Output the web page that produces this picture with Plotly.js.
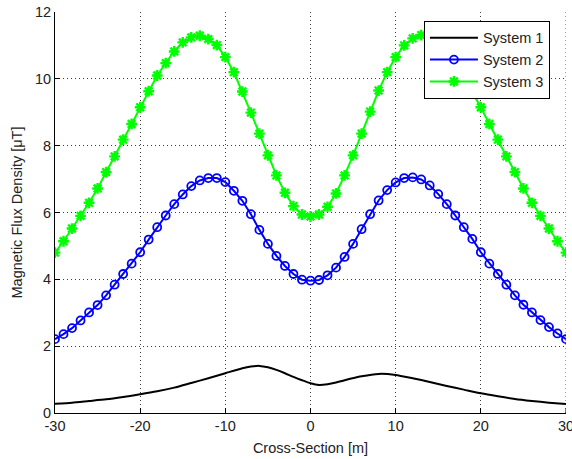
<!DOCTYPE html>
<html>
<head>
<meta charset="utf-8">
<script src="https://cdn.plot.ly/plotly-3.0.1.min.js"></script>
<style>html,body{margin:0;padding:0;background:#fff;}#chart{width:572px;height:459px;}</style>
</head>
<body>
<div id="chart"></div>
<script>
// System 1 (line only)
const x1 = [-30,-28,-26,-24,-22,-20,-18,-16,-14,-12,-10,-8,-7,-6,-5,-4,-3,-2,-1,0,1,2,3,4,6,8,10,12,14,16,18,20,22,24,26,28,30];
const y1 = [0.28,0.31,0.36,0.41,0.48,0.56,0.65,0.76,0.90,1.04,1.19,1.34,1.39,1.41,1.37,1.29,1.19,1.08,0.98,0.89,0.84,0.86,0.91,0.98,1.10,1.17,1.14,1.04,0.93,0.81,0.70,0.59,0.50,0.42,0.36,0.31,0.27];

// Systems 2 and 3 share the 1 m grid
const x23 = [-30,-29,-28,-27,-26,-25,-24,-23,-22,-21,-20,-19,-18,-17,-16,-15,-14,-13,-12,-11,-10,-9,-8,-7,-6,-5,-4,-3,-2,-1,0,1,2,3,4,5,6,7,8,9,10,11,12,13,14,15,16,17,18,19,20,21,22,23,24,25,26,27,28,29,30];
const y2 = [2.21,2.36,2.54,2.77,3.01,3.23,3.52,3.84,4.16,4.47,4.81,5.19,5.56,5.91,6.25,6.54,6.79,6.96,7.03,7.03,6.91,6.65,6.35,5.95,5.48,5.06,4.70,4.40,4.16,3.99,3.96,3.98,4.12,4.35,4.67,5.06,5.50,5.95,6.36,6.67,6.90,7.03,7.05,6.99,6.81,6.55,6.25,5.91,5.56,5.21,4.81,4.47,4.16,3.84,3.52,3.24,3.01,2.78,2.57,2.38,2.21];
const y3 = [4.80,5.14,5.52,5.90,6.29,6.72,7.21,7.68,8.18,8.65,9.15,9.63,10.10,10.47,10.82,11.09,11.24,11.29,11.19,11.01,10.65,10.20,9.62,8.99,8.36,7.71,7.11,6.59,6.19,5.94,5.88,5.94,6.17,6.57,7.11,7.71,8.36,9.02,9.65,10.20,10.65,11.00,11.21,11.31,11.24,11.09,10.82,10.47,10.10,9.60,9.15,8.65,8.18,7.68,7.21,6.72,6.29,5.90,5.52,5.14,4.80];

const seriesNames = ['System 1','System 2','System 3'];
const xTicks = [-30,-20,-10,0,10,20,30];
const yTicks = [0,2,4,6,8,10,12];

const FONT = 'Liberation Sans, Arial, Helvetica, sans-serif';
const GRID = 'rgba(40,40,40,0.9)';

const traces = [
  {x:x1, y:y1, name:seriesNames[0], type:'scatter', mode:'lines',
   line:{color:'#000000', width:2, shape:'spline', smoothing:0.6}},
  {x:x23, y:y2, name:seriesNames[1], type:'scatter', mode:'lines+markers',
   line:{color:'#0000ff', width:2},
   marker:{symbol:'circle-open', size:8, color:'#0000ff', line:{width:1.8, color:'#0000ff'}}},
  {x:x23, y:y3, name:seriesNames[2], type:'scatter', mode:'lines+markers',
   line:{color:'#00ff00', width:2},
   marker:{symbol:'asterisk-open', size:9, color:'#00ff00', line:{width:2.4, color:'#00ff00'}}}
];

const axisCommon = {
  showline:true, linecolor:'#000', linewidth:1, mirror:false,
  ticks:'inside', ticklen:5, tickwidth:1, tickcolor:'#000',
  showgrid:true, gridcolor:GRID, gridwidth:1, griddash:'1px,3px',
  zeroline:false, tickfont:{family:FONT, size:14.5, color:'#222'},
  ticklabeloverflow:'allow',
  automargin:false
};

const layout = {
  width:572, height:459,
  margin:{l:55, r:6, t:12, b:46},
  paper_bgcolor:'#fff', plot_bgcolor:'#fff',
  showlegend:true,
  xaxis: Object.assign({}, axisCommon, {
    range:[-30,30], tickmode:'array', tickvals:xTicks, ticktext:xTicks.map(String),
    title:{text:'Cross-Section [m]', font:{family:FONT, size:14.5, color:'#222'}, standoff:9}
  }),
  yaxis: Object.assign({}, axisCommon, {
    range:[0,12], tickmode:'array', tickvals:yTicks, ticktext:yTicks.map(String),
    title:{text:'Magnetic Flux Density [μT]', font:{family:FONT, size:14.5, color:'#222'}, standoff:8}
  }),
  shapes:[
    {type:'line', xref:'x', yref:'paper', x0:xTicks[xTicks.length-1], x1:xTicks[xTicks.length-1], y0:0, y1:1,
     line:{color:GRID, width:1, dash:'1px,3px'}, layer:'below'},
    {type:'line', xref:'x', yref:'paper', x0:xTicks[xTicks.length-1], x1:xTicks[xTicks.length-1], y0:0, y1:0.0125,
     line:{color:'#000', width:1}, layer:'above'}
  ],
  legend:{
    x:0.722, y:0.978, xanchor:'left', yanchor:'top',
    bgcolor:'#fff', bordercolor:'#000', borderwidth:1,
    font:{family:FONT, size:14.5, color:'#222'},
    itemwidth:48, tracegroupgap:0
  }
};

Plotly.newPlot('chart', traces, layout, {displayModeBar:false, staticPlot:true});
</script>
</body>
</html>
